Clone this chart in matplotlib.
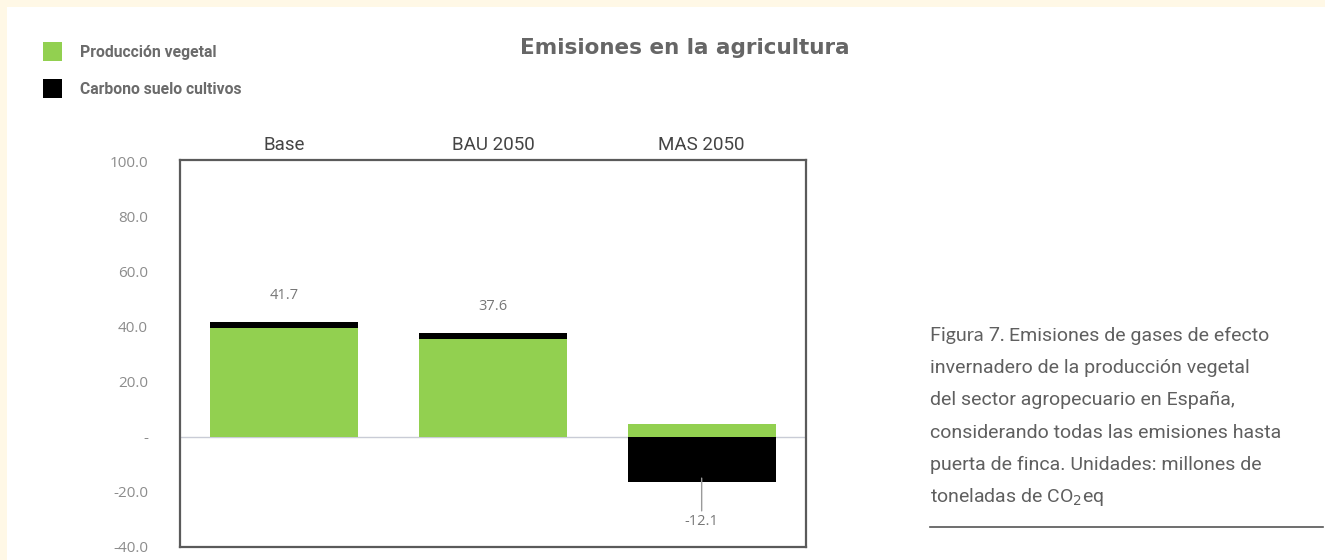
import matplotlib
matplotlib.use("Agg")
import matplotlib.pyplot as plt
from matplotlib.patches import Rectangle

# data (millones de toneladas de CO2eq)
escenarios = ["Base", "BAU 2050", "MAS 2050"]
produccion_vegetal = [39.5, 35.3, 4.5]
carbono_suelo = [2.2, 2.3, -16.6]
totales = [41.7, 37.6, -12.1]
yticks = [100, 80, 60, 40, 20, 0, -20, -40]
ytick_labels = ["100.0", "80.0", "60.0", "40.0", "20.0", "-", "-20.0", "-40.0"]

verde = "#92d050"
negro = "#000000"
gris = "#5f5f5f"

fig = plt.figure(figsize=(13.25, 5.6), dpi=100)
fig.patch.set_facecolor("#fff8e6")
fig.patches.append(Rectangle((7 / 1325, 0), 1, 1 - 7 / 560, transform=fig.transFigure,
                             facecolor="white", edgecolor="none", zorder=-5))

ax = fig.add_axes([180 / 1325, 1 - 547 / 560, 626 / 1325, 387 / 560])
ax.set_zorder(2)
x = range(len(escenarios))
w = 0.71

# stacked: green from 0, black on top of green if positive, below 0 if negative
bottoms_c = [pv if c >= 0 else 0 for pv, c in zip(produccion_vegetal, carbono_suelo)]
ax.bar(x, produccion_vegetal, width=w, color=verde, zorder=3)
ax.bar(x, carbono_suelo, width=w, bottom=bottoms_c, color=negro, zorder=3)
ax.axhline(0, color="#c9ccd6", lw=1, zorder=2)

ax.set_xlim(-0.5, 2.5)
ax.set_ylim(-40.2, 100.6)
ax.set_yticks(yticks)
ax.set_yticklabels(ytick_labels, fontsize=11, color="#8c8c8c", family="Open Sans")
ax.tick_params(axis="y", length=0, pad=23)
ax.set_xticks(list(x))
ax.set_xticklabels(escenarios, fontsize=13.5, color="#444444", family="Roboto")
ax.xaxis.tick_top()
ax.tick_params(axis="x", length=0, pad=4)
for s in ax.spines.values():
    s.set_color("#5a5a5a")
    s.set_linewidth(1.6)

for i, t in enumerate(totales):
    if t >= 0:
        ax.annotate(f"{t:.1f}", (i, t), xytext=(0, 19), textcoords="offset points",
                    ha="center", va="center", fontsize=10.5, color="#777777", family="Open Sans")
    else:
        ax.annotate(f"{t:.1f}", (i, t), xytext=(0, -37), textcoords="offset points",
                    ha="center", va="center", fontsize=10.5, color="#777777", family="Open Sans",
                    arrowprops=dict(arrowstyle="-", color="#9a9a9a", lw=1, shrinkA=0, shrinkB=6))

# title
fig.text(685 / 1325, 1 - 48 / 560, "Emisiones en la agricultura", ha="center", va="center",
         fontsize=15.5, fontweight="bold", color="#666666", family="DejaVu Sans")

# legend
for yy, col, lab in [(52, verde, "Producción vegetal"), (89, negro, "Carbono suelo cultivos")]:
    fig.patches.append(Rectangle((43 / 1325, 1 - (yy + 9) / 560), 19 / 1325, 19 / 560,
                                 transform=fig.transFigure, facecolor=col, edgecolor="none"))
    fig.text(80 / 1325, 1 - yy / 560, lab, ha="left", va="center", fontsize=11.3,
             fontweight="bold", color="#6b6b6b", family="Roboto")

# caption
lineas = ["invernadero de la producción vegetal",
          "del sector agropecuario en España,",
          "considerando todas las emisiones hasta",
          "puerta de finca. Unidades: millones de",
          "toneladas de CO$_2$eq"]
t1 = fig.text(930 / 1325, 1 - 336 / 560, "Figura 7.", ha="left", va="center",
              fontsize=14, color=gris, family="Lato")
fig.canvas.draw()
bb = t1.get_window_extent()
fig.text((bb.x1 + 5) / 1325, 1 - 336 / 560, "Emisiones de gases de efecto", ha="left", va="center",
         fontsize=14, color=gris, family="Roboto")
for k, l in enumerate(lineas):
    fig.text(930 / 1325, 1 - (368 + 32.3 * k) / 560, l, ha="left", va="center",
             fontsize=14, color=gris, family="Roboto")
fig.add_artist(plt.Line2D([930 / 1325, 1323 / 1325], [1 - 527 / 560] * 2,
                          transform=fig.transFigure, color="#555555", lw=1.2))

fig.savefig("out.png", dpi=100)
